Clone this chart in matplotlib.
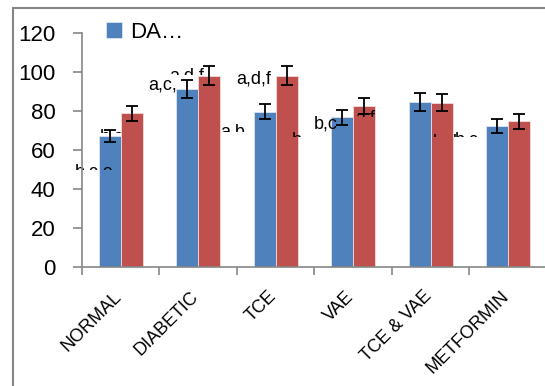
import numpy as np
import matplotlib
matplotlib.use("Agg")
import matplotlib.pyplot as plt
from matplotlib.patches import Rectangle
from matplotlib.transforms import Bbox, TransformedBbox, ScaledTranslation

plt.rcParams['font.family'] = ['Liberation Sans', 'DejaVu Sans']

# -- data
groups = ["NORMAL", "DIABETIC", "TCE", "VAE", "TCE & VAE", "METFORMIN"]
blue_vals = [67.2, 91.3, 79.6, 76.8, 84.6, 72.3]
blue_err = [3.3, 4.7, 3.8, 3.9, 4.5, 3.5]
red_vals = [78.8, 98.1, 98.1, 82.6, 84.3, 74.7]
red_err = [4.0, 5.0, 5.0, 4.0, 4.5, 3.9]
legend_label = "DA\u2026"
yticks = [0, 20, 40, 60, 80, 100, 120]

# significance labels (partly clipped in the original): text, x, baseline, clip bottom
sig_text = ["b,c", "b,c,e", "a,c,", "a,d,f", "a,b", "a,d,f", "b", "b,c", "a,f", "b,d", "b,c"]
sig_x = [-0.27, -0.59, 0.356, 0.626, 1.28, 1.495, 2.206, 2.485, 3.02, 4.03, 4.31]
sig_y = [64.6, 46.4, 90.8, 95.6, 67.0, 94.2, 62.6, 71.1, 74.1, 61.8, 62.6]
sig_clip = [68.7, 49.7, None, 98.5, 69.4, None, 66.7, None, 77.0, 66.5, 66.8]

blue = "#4F81BD"
red = "#C0504D"
grey = "#868686"

fig = plt.figure(figsize=(5.45, 3.86), dpi=100)
ax = fig.add_axes([82/545, 1 - 267/386, 465/545, 234/386])

x = np.arange(len(groups))
w = 0.284
err_kw = dict(ecolor="black", elinewidth=1.3, capsize=4, capthick=1.3, zorder=3)
ax.bar(x - w/2, blue_vals, w, yerr=blue_err, color=blue, edgecolor="#dbe5f1",
       linewidth=0.6, error_kw=err_kw, label=legend_label, zorder=1)
ax.bar(x + w/2, red_vals, w, yerr=red_err, color=red, edgecolor="#f2dcdb",
       linewidth=0.6, error_kw=err_kw, zorder=1)

for t, xx, yy, yc in zip(sig_text, sig_x, sig_y, sig_clip):
    txt = ax.text(xx, yy, t, fontsize=13, ha="left", va="baseline", zorder=2)
    if yc is not None:
        txt.set_clip_box(TransformedBbox(Bbox([[-5, yc], [10, 200]]), ax.transData))
        txt.set_clip_on(True)
    else:
        txt.set_clip_on(False)

ax.set_xlim(-0.5, 5.5)
ax.set_ylim(0, 120)
ax.set_yticks(yticks)
ax.tick_params(axis="y", labelsize=16, length=6.5, width=1.2, color=grey, pad=12.5)
ax.set_xticks(np.arange(-0.5, 6, 1))
ax.set_xticklabels([])
ax.set_xticks(x, minor=True)
ax.set_xticklabels(groups, minor=True, rotation=45, ha="right", va="top",
                   rotation_mode="anchor", fontsize=13)
ax.tick_params(axis="x", which="major", length=6, width=1.2, color=grey)
ax.tick_params(axis="x", which="minor", length=0, pad=15)
shift = ScaledTranslation(-0.08, 0, fig.dpi_scale_trans)
for lab in ax.get_xticklabels(minor=True):
    lab.set_transform(lab.get_transform() + shift)

for side in ["top", "right"]:
    ax.spines[side].set_visible(False)
for side in ["left", "bottom"]:
    ax.spines[side].set_color(grey)
    ax.spines[side].set_linewidth(1.2)

ax.legend(loc="upper left", bbox_to_anchor=(106/545, 1 - 22/386),
          bbox_transform=fig.transFigure, frameon=False, fontsize=16,
          handlelength=0.7, handleheight=0.7, handletextpad=0.4,
          borderpad=0, borderaxespad=0)

# outer chart frame (cut off at right and bottom)
fig.patches.append(Rectangle((13/545, -0.2), 2, 1.2 - 8/386, transform=fig.transFigure,
                             fill=False, edgecolor=grey, linewidth=1.5))

fig.savefig("out.png", dpi=100)
